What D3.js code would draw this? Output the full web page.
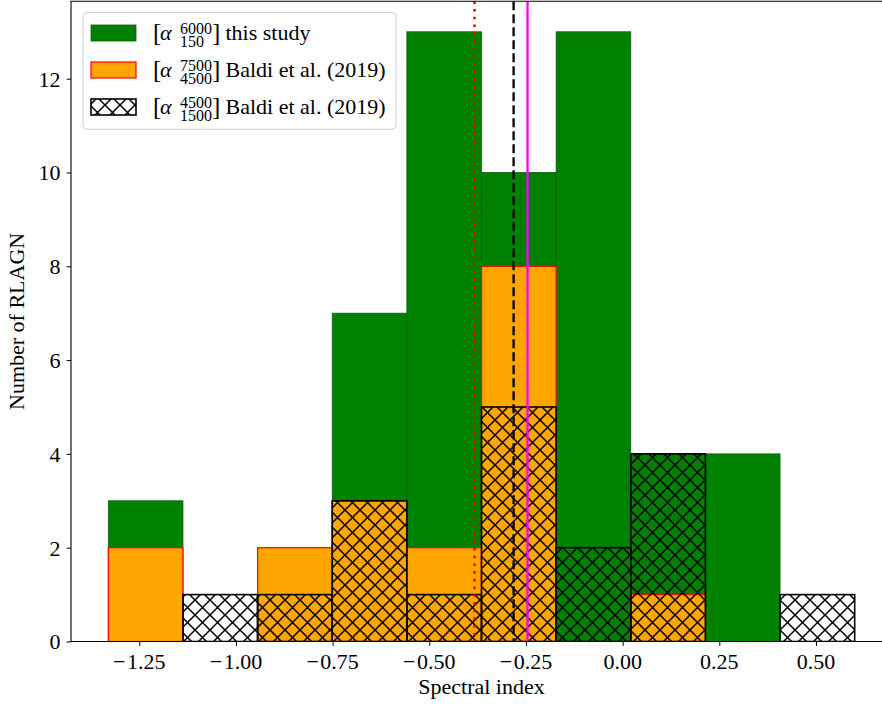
<!DOCTYPE html>
<html>
<head>
<meta charset="utf-8">
<script src="https://cdn.jsdelivr.net/npm/d3@7"></script>
<style>
  html, body { margin: 0; padding: 0; background: #fff; }
  svg { display: block; }
  text { font-family: "Liberation Serif", "Times New Roman", serif; fill: #000; }
</style>
</head>
<body>
<svg id="chart" width="882" height="704"></svg>
<script>
// Histogram bin edges (spectral index)
const binEdges = [-1.330, -1.137, -0.944, -0.751, -0.558, -0.365, -0.172, 0.021, 0.214, 0.407, 0.600];
// Counts per bin
const thisStudy  = [3, 0, 0, 7, 13, 10, 13, 4, 4, 0];   // alpha 150-6000 MHz
const baldiHigh  = [2, 0, 2, 3, 2, 8, 0, 1, 0, 0];      // alpha 4500-7500 MHz
const baldiLow   = [0, 1, 1, 3, 1, 5, 2, 4, 0, 1];      // alpha 1500-4500 MHz
// Median spectral indices: Baldi low band, Baldi high band, this study
const medianValues = [-0.383, -0.282, -0.246];
const xTicks = [-1.25, -1.00, -0.75, -0.50, -0.25, 0.00, 0.25, 0.50];
const yTicks = [0, 2, 4, 6, 8, 10, 12];
const legendLabels = [
  { sup: "6000", sub: "150",  tail: "this study" },
  { sup: "7500", sub: "4500", tail: "Baldi et al. (2019)" },
  { sup: "4500", sub: "1500", tail: "Baldi et al. (2019)" }
];

const svg = d3.select("#chart");
const plot = { left: 71, right: 892, top: 1.3, bottom: 641.5 };

const x = d3.scaleLinear().domain([-1.4265, 0.6965]).range([plot.left, plot.right]);
const y = d3.scaleLinear().domain([0, 13.65]).range([plot.bottom, plot.top]);

// Cross-hatch pattern
const defs = svg.append("defs");
const hs = 15;
const pat = defs.append("pattern")
  .attr("id", "xhatch")
  .attr("patternUnits", "userSpaceOnUse")
  .attr("width", hs).attr("height", hs)
  .attr("x", 0).attr("y", 0);
pat.append("path")
  .attr("d", `M${-hs},${-hs}L${2*hs},${2*hs}M${-hs},${2*hs}L${2*hs},${-hs}`)
  .attr("stroke", "#000").attr("stroke-width", 1.5).attr("fill", "none");

const clip = defs.append("clipPath").attr("id", "plotclip");
clip.append("rect").attr("x", plot.left).attr("y", plot.top)
  .attr("width", plot.right - plot.left).attr("height", plot.bottom - plot.top);

const g = svg.append("g").attr("clip-path", "url(#plotclip)");

function bars(counts, cls, style) {
  const data = counts.map((c, i) => ({ c, x0: binEdges[i], x1: binEdges[i + 1] })).filter(d => d.c > 0);
  const sel = g.append("g").attr("class", cls).selectAll("rect").data(data).join("rect")
    .attr("x", d => x(d.x0))
    .attr("width", d => x(d.x1) - x(d.x0))
    .attr("y", d => y(d.c))
    .attr("height", d => y(0) - y(d.c));
  style(sel);
}

bars(thisStudy, "this-study", s => s.attr("fill", "#008000").attr("stroke", "#0a5f0a").attr("stroke-width", 0.8));
bars(baldiHigh, "baldi-high", s => s.attr("fill", "#FFA500").attr("stroke", "#ff0000").attr("stroke-width", 1.2));
bars(baldiLow, "baldi-low", s => s.attr("fill", "url(#xhatch)").attr("stroke", "#000").attr("stroke-width", 1.6));

// Median lines
const lineStyles = [
  { color: "#ff0000", width: 2.6, dash: "2.6,5.1" },
  { color: "#000000", width: 2.3, dash: "9,4" },
  { color: "#ff00ff", width: 2.3, dash: null }
];
medianValues.forEach((v, i) => {
  const st = lineStyles[i];
  g.append("line")
    .attr("x1", x(v)).attr("x2", x(v))
    .attr("y1", plot.top).attr("y2", plot.bottom)
    .attr("stroke", st.color).attr("stroke-width", st.width)
    .attr("stroke-dasharray", st.dash);
});

// Axes
const xAxis = d3.axisBottom(x).tickValues(xTicks).tickSize(4.4).tickPadding(5)
  .tickFormat(d => "");
const xg = svg.append("g").attr("transform", `translate(0,${plot.bottom})`).call(xAxis);
xg.select(".domain").remove();
xg.selectAll(".tick line").attr("stroke", "#000").attr("stroke-width", 1);

const xLab = svg.append("g");
xTicks.forEach(t => {
  const s = d3.format(".2f")(Math.abs(t));
  const txt = xLab.append("text")
    .attr("x", x(t)).attr("y", 669)
    .attr("text-anchor", "middle")
    .attr("font-size", 22);
  if (t < 0) {
    txt.append("tspan").text("\u2212");
    txt.append("tspan").attr("dx", 1.5).text(s);
  } else {
    txt.text(s);
  }
});

const yAxis = d3.axisLeft(y).tickValues(yTicks).tickSize(4.4).tickPadding(6)
  .tickFormat(d3.format("d"));
const yg = svg.append("g").attr("transform", `translate(${plot.left},0)`).call(yAxis);
yg.select(".domain").remove();
yg.selectAll(".tick line").attr("stroke", "#000").attr("stroke-width", 1);
yg.selectAll(".tick text")
  .attr("font-family", "Liberation Serif, Times New Roman, serif")
  .attr("font-size", 22).attr("fill", "#000").attr("dy", "0.34em");

// Spines
svg.append("path")
  .attr("d", `M${plot.right},${plot.top}H${plot.left}V${plot.bottom}H${plot.right}`)
  .attr("fill", "none").attr("stroke", "#000").attr("stroke-width", 1.1);

// Axis titles
svg.append("text").attr("x", (plot.left + plot.right) / 2).attr("y", 694)
  .attr("text-anchor", "middle").attr("font-size", 22).text("Spectral index");
svg.append("text")
  .attr("transform", `translate(24,${(plot.top + plot.bottom) / 2}) rotate(-90)`)
  .attr("text-anchor", "middle").attr("font-size", 22).text("Number of RLAGN");

// Legend
const leg = svg.append("g");
leg.append("rect").attr("x", 83).attr("y", 12.7).attr("width", 313).attr("height", 116.5)
  .attr("rx", 4).attr("fill", "#fff").attr("fill-opacity", 0.8)
  .attr("stroke", "#cccccc").attr("stroke-width", 1);

const rowY = [33, 70, 107];
const patchStyles = [
  { fill: "#008000", stroke: "#0a5f0a", sw: 0.8 },
  { fill: "#FFA500", stroke: "#ff0000", sw: 1.2 },
  { fill: "url(#xhatch)", stroke: "#000", sw: 1.6 }
];
legendLabels.forEach((lab, i) => {
  const cy = rowY[i];
  const ps = patchStyles[i];
  leg.append("rect").attr("x", 91).attr("y", cy - 8).attr("width", 45).attr("height", 16)
    .attr("fill", ps.fill).attr("stroke", ps.stroke).attr("stroke-width", ps.sw);
  const base = cy + 7;
  // one text element per label: [α ^sup _sub] tail
  const t = leg.append("text").attr("x", 153).attr("y", base).attr("font-size", 22);
  t.append("tspan").attr("x", 153).attr("y", base + 1).attr("font-size", 25).text("[");
  t.append("tspan").attr("x", 160).attr("y", base).attr("font-style", "italic").text("\u03b1");
  t.append("tspan").attr("x", 180).attr("y", base - 6).attr("font-size", 16).text(lab.sup);
  t.append("tspan").attr("x", 180).attr("y", base + 7).attr("font-size", 16).text(lab.sub);
  t.append("tspan").attr("x", 212).attr("y", base + 1).attr("font-size", 25).text("]");
  t.append("tspan").attr("x", 225.5).attr("y", base).text(lab.tail);
});
</script>
</body>
</html>
